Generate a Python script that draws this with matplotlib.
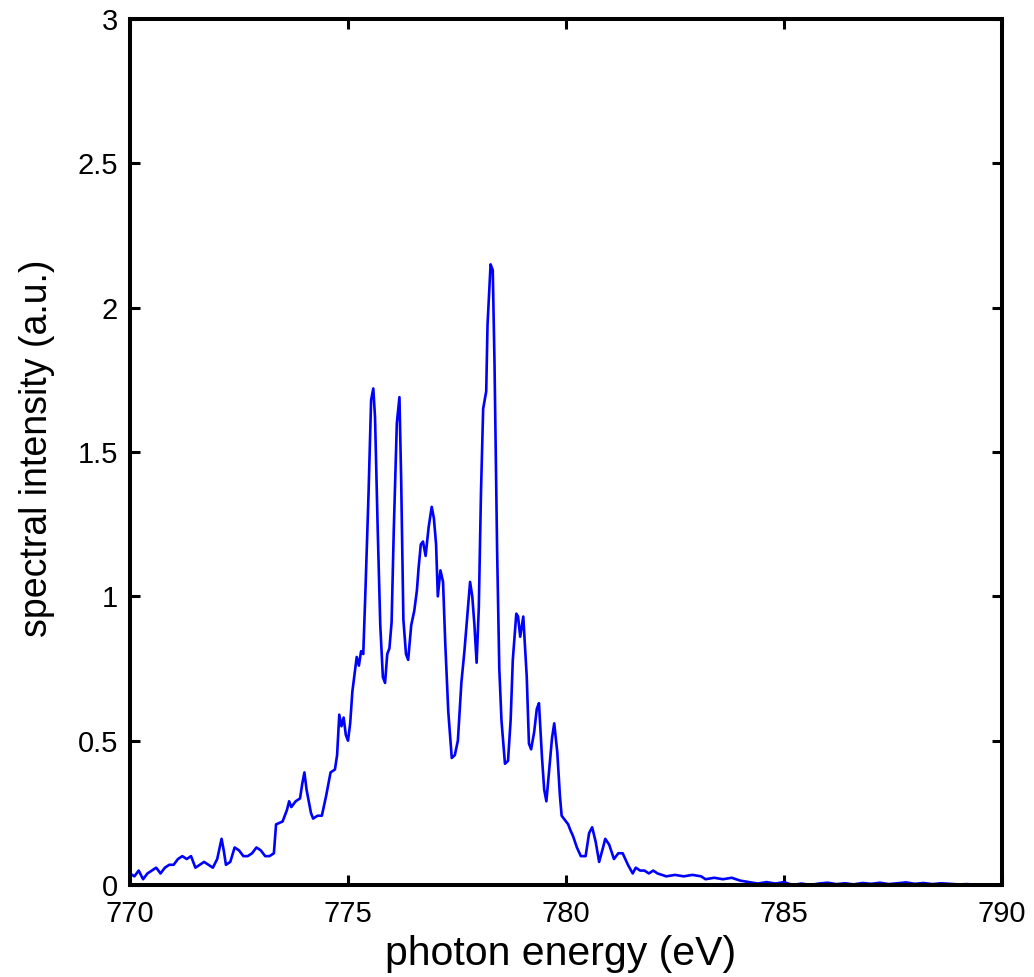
import matplotlib
matplotlib.use("Agg")
import matplotlib.pyplot as plt

energy = [
    770.0, 770.1, 770.2, 770.3, 770.4, 770.5, 770.6, 770.7, 770.8, 770.9,
    771.0, 771.1, 771.2, 771.3, 771.4, 771.5, 771.6, 771.7, 771.8, 771.9,
    772.0, 772.1, 772.15, 772.2, 772.3, 772.4, 772.5, 772.6, 772.7, 772.8,
    772.9, 773.0, 773.1, 773.2, 773.3, 773.35, 773.5, 773.6, 773.65, 773.7,
    773.8, 773.9, 773.95, 774.0, 774.05, 774.15, 774.2, 774.3, 774.4, 774.5,
    774.6, 774.7, 774.75, 774.8, 774.85, 774.9, 774.95, 775.0, 775.05, 775.1,
    775.2, 775.25, 775.3, 775.35, 775.4, 775.47, 775.53, 775.58, 775.62, 775.68,
    775.74, 775.8, 775.85, 775.9, 775.95, 776.0, 776.05, 776.12, 776.18, 776.22,
    776.27, 776.33, 776.38, 776.45, 776.52, 776.58, 776.62, 776.67, 776.72, 776.78,
    776.85, 776.92, 776.97, 777.02, 777.06, 777.12, 777.18, 777.23, 777.3, 777.38,
    777.45, 777.52, 777.6, 777.67, 777.75, 777.8, 777.85, 777.9, 777.95, 778.0,
    778.05, 778.1, 778.17, 778.2, 778.27, 778.32, 778.36, 778.42, 778.47, 778.52,
    778.6, 778.67, 778.73, 778.78, 778.86, 778.9, 778.95, 779.02, 779.1, 779.15,
    779.2, 779.27, 779.33, 779.38, 779.45, 779.5, 779.55, 779.62, 779.68, 779.73,
    779.8, 779.86, 779.9, 780.0, 780.05, 780.1, 780.16, 780.25, 780.34, 780.45,
    780.53, 780.6, 780.68, 780.76, 780.85, 780.9, 780.99, 781.1, 781.2, 781.3,
    781.42, 781.53, 781.6, 781.7, 781.8, 781.9, 782.0, 782.1, 782.2, 782.3,
    782.5, 782.7, 782.9, 783.1, 783.2, 783.4, 783.6, 783.8, 784.0, 784.2,
    784.4, 784.6, 784.8, 785.0, 785.2, 785.4, 785.6, 785.8, 786.0, 786.2,
    786.4, 786.6, 786.8, 787.0, 787.2, 787.4, 787.6, 787.8, 788.0, 788.2,
    788.4, 788.6, 788.8, 789.0, 789.2, 789.4, 789.6, 789.8, 790.0,
]

intensity = [
    0.04, 0.03, 0.05, 0.02, 0.04, 0.05, 0.06, 0.04, 0.06, 0.07,
    0.07, 0.09, 0.10, 0.09, 0.10, 0.06, 0.07, 0.08, 0.07, 0.06,
    0.09, 0.16, 0.12, 0.07, 0.08, 0.13, 0.12, 0.10, 0.10, 0.11,
    0.13, 0.12, 0.10, 0.10, 0.11, 0.21, 0.22, 0.26, 0.29, 0.27,
    0.29, 0.30, 0.35, 0.39, 0.33, 0.25, 0.23, 0.24, 0.24, 0.31,
    0.39, 0.40, 0.45, 0.59, 0.55, 0.58, 0.52, 0.50, 0.56, 0.67,
    0.79, 0.76, 0.81, 0.80, 1.02, 1.35, 1.68, 1.72, 1.62, 1.24,
    0.90, 0.72, 0.70, 0.80, 0.82, 0.91, 1.23, 1.60, 1.69, 1.40,
    0.92, 0.80, 0.78, 0.90, 0.95, 1.02, 1.10, 1.18, 1.19, 1.14,
    1.24, 1.31, 1.27, 1.18, 1.00, 1.09, 1.05, 0.84, 0.60, 0.44,
    0.45, 0.50, 0.70, 0.81, 0.96, 1.05, 1.00, 0.90, 0.77, 0.96,
    1.36, 1.65, 1.71, 1.94, 2.15, 2.13, 1.81, 1.16, 0.75, 0.57,
    0.42, 0.43, 0.57, 0.78, 0.94, 0.93, 0.86, 0.93, 0.72, 0.49,
    0.47, 0.53, 0.61, 0.63, 0.44, 0.33, 0.29, 0.41, 0.51, 0.56,
    0.46, 0.31, 0.24, 0.22, 0.21, 0.19, 0.17, 0.13, 0.10, 0.10,
    0.18, 0.20, 0.15, 0.08, 0.13, 0.16, 0.14, 0.09, 0.11, 0.11,
    0.07, 0.04, 0.06, 0.05, 0.05, 0.04, 0.05, 0.04, 0.035, 0.03,
    0.035, 0.03, 0.035, 0.03, 0.02, 0.025, 0.02, 0.025, 0.015, 0.01,
    0.005, 0.01, 0.005, 0.01, 0.0, 0.005, 0.0, 0.005, 0.008, 0.003,
    0.006, 0.002, 0.007, 0.004, 0.008, 0.003, 0.006, 0.009, 0.004, 0.007,
    0.003, 0.006, 0.004, 0.002, 0.003, 0.001, 0.002, 0.001, 0.0,
]

x_ticks = [770, 775, 780, 785, 790]
y_ticks = [0, 0.5, 1, 1.5, 2, 2.5, 3]
y_tick_labels = ["0", "0.5", "1", "1.5", "2", "2.5", "3"]

plt.rcParams['font.family'] = ['Liberation Sans', 'DejaVu Sans']

W, H = 1034, 977
fig = plt.figure(figsize=(W / 100, H / 100), dpi=100)
ax = fig.add_axes([130 / W, 1 - 885 / H, 872 / W, 866 / H])

ax.plot(energy, intensity, color=(0, 0, 1), linewidth=1.9)

ax.set_xlim(770, 790)
ax.set_ylim(0, 3)
ax.set_xticks(x_ticks)
ax.set_xticklabels([str(t) for t in x_ticks])
ax.set_yticks(y_ticks)
ax.set_yticklabels(y_tick_labels)

for s in ax.spines.values():
    s.set_linewidth(2.9)
    s.set_color('black')

ax.tick_params(axis='both', direction='in', length=7.5, width=2.2,
               top=True, right=True, labelsize=21, colors='black')
ax.tick_params(axis='x', pad=10.5)
ax.tick_params(axis='y', pad=8.5)

fig.text(561 / W, 1 - 965 / H, "photon energy (eV)", ha='center', va='baseline',
         fontsize=29.5)
fig.text(37 / W, 1 - 448 / H, "spectral intensity (a.u.)", ha='center', va='center',
         rotation=90, fontsize=27)

fig.savefig("out.png", dpi=100)
